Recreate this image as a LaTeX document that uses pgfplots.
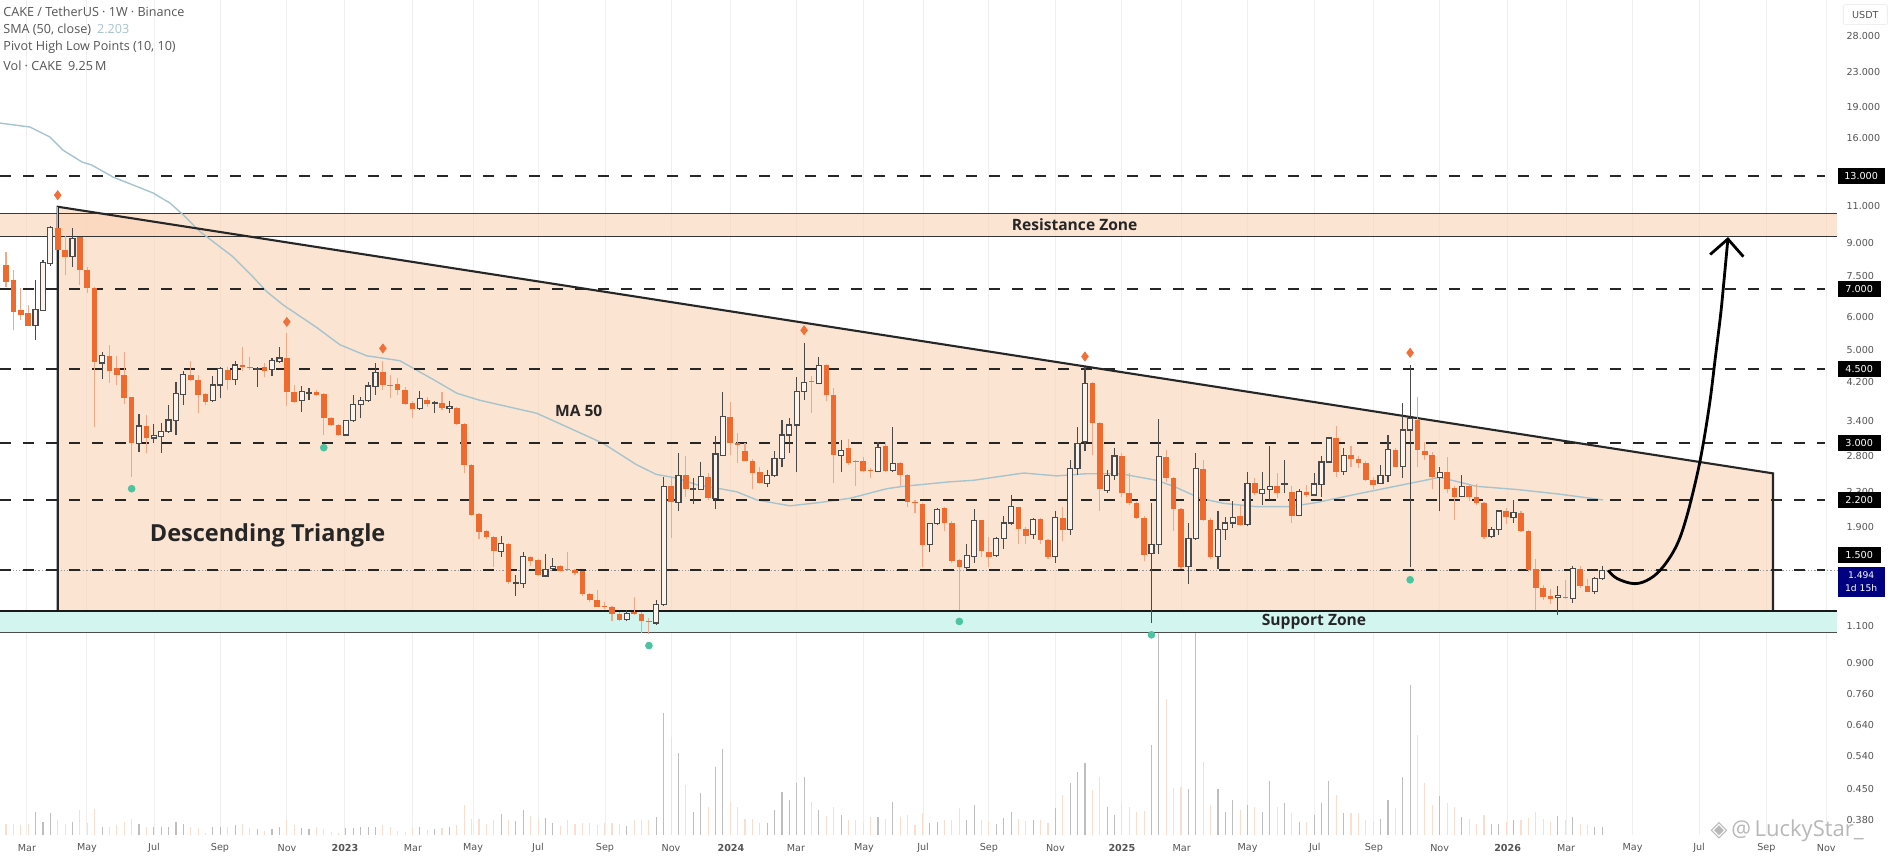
\documentclass[border=0pt]{standalone}
\usepackage{pgfplots}
\usepackage{pgfplotstable}
\usepackage{fontspec}
\setmainfont{Open Sans}
\newfontfamily\tickfont{DejaVu Sans}
\pgfplotsset{compat=1.18}
\definecolor{candlered}{HTML}{EE6A2F}
\definecolor{wickred}{HTML}{F2A888}
\definecolor{wickup}{HTML}{4A4A4A}
\definecolor{upfill}{HTML}{FBF3EC}
\definecolor{peach}{HTML}{FBD3B4}
\definecolor{aqua}{HTML}{D2F5F0}
\definecolor{smacol}{HTML}{A5C4CE}
\definecolor{pivotup}{HTML}{F0703A}
\definecolor{pivotdn}{HTML}{4CC4A2}
\definecolor{volup}{HTML}{BEBEBE}
\definecolor{voldn}{HTML}{FADDCE}
\definecolor{gridc}{HTML}{EFEFEF}
\definecolor{txt}{HTML}{555555}
\pgfdeclareplotmark{candleup}{%
  \pgfsetlinewidth{.55pt}\pgfsetstrokecolor{wickup}%
  \pgfpathmoveto{\pgfqpoint{0pt}{\cwl pt}}\pgfpathlineto{\pgfqpoint{0pt}{\cwh pt}}\pgfusepathqstroke
  \pgfsetlinewidth{.6pt}\pgfsetfillcolor{upfill}%
  \pgfpathrectangle{\pgfqpoint{-1.25pt}{0pt}}{\pgfqpoint{2.5pt}{\cdh pt}}\pgfusepathqfillstroke}
\pgfdeclareplotmark{candledn}{%
  \pgfsetlinewidth{.55pt}\pgfsetstrokecolor{wickred}%
  \pgfpathmoveto{\pgfqpoint{0pt}{\cwl pt}}\pgfpathlineto{\pgfqpoint{0pt}{\cwh pt}}\pgfusepathqstroke
  \pgfsetfillcolor{candlered}%
  \pgfpathrectangle{\pgfqpoint{-1.4pt}{0pt}}{\pgfqpoint{2.8pt}{\cdh pt}}\pgfusepathqfill}
\pgfplotsset{candles/.style={only marks, scatter, scatter src=y, mark=#1,
  visualization depends on={(ln(\thisrow{c})-ln(\thisrow{o}))*91.2 \as \cdh},
  visualization depends on={(ln(\thisrow{h})-ln(\thisrow{o}))*91.2 \as \cwh},
  visualization depends on={(ln(\thisrow{l})-ln(\thisrow{o}))*91.2 \as \cwl},
  scatter/@pre marker code/.code={\scope},
  scatter/@post marker code/.code={\endscope}}}
\pgfplotstableread{
x o h l c v
4 5.72 7.35 5.30 6.24 28
5 6.22 8.20 6.22 8.10 16
6 8.05 9.89 7.93 9.81 26
9 8.35 9.76 7.90 9.24 16
13 4.66 4.96 4.27 4.85 10
18 3.00 3.53 2.86 3.30 13.2
20 3.09 3.34 3.00 3.13 9.2
21 3.11 3.36 2.85 3.20 9.2
22 3.20 3.70 3.18 3.41 10
23 3.40 4.21 3.14 3.95 15.2
24 3.93 4.45 3.70 4.37 13.2
28 3.79 4.33 3.77 4.13 9.2
29 4.13 4.57 3.84 4.53 10
31 4.25 4.70 4.13 4.61 12
34 4.51 4.57 4.08 4.53 7.2
36 4.49 4.79 4.35 4.72 6.8
37 4.70 5.08 4.66 4.79 10
40 3.79 4.11 3.57 3.98 8
41 3.95 4.06 3.81 3.96 6.8
46 3.14 3.41 3.13 3.40 8
47 3.40 3.91 3.38 3.72 8
48 3.72 3.87 3.44 3.80 9.2
49 3.79 4.19 3.77 4.11 9.2
50 4.09 4.66 3.91 4.43 10
56 3.63 4.00 3.61 3.84 10
58 3.73 3.79 3.54 3.75 6.8
60 3.63 3.79 3.55 3.67 10
67 1.66 1.81 1.61 1.73 24.8
69 1.39 1.46 1.30 1.40 17.2
70 1.39 1.65 1.36 1.61 30
73 1.45 1.64 1.45 1.50 20
74 1.51 1.60 1.50 1.53 14
84 1.14 1.20 1.13 1.18 10.8
88 1.12 1.27 1.11 1.24 21.2
89 1.24 2.49 1.23 2.37 146
91 2.17 2.85 2.07 2.51 98
93 2.33 2.48 2.15 2.34 28
94 2.33 2.71 2.33 2.50 50
96 2.22 3.12 2.09 2.83 82
97 2.81 3.98 2.80 3.47 102.8
103 2.41 2.59 2.36 2.52 14
104 2.52 2.87 2.50 2.76 30
105 2.76 3.41 2.63 3.14 52
106 3.14 3.44 2.84 3.32 42
107 3.32 4.31 2.56 3.98 62
108 3.98 5.21 3.81 4.19 70
110 4.17 4.83 4.15 4.59 30
113 2.81 3.06 2.56 2.89 24
118 2.57 3.03 2.56 2.93 22
120 2.59 3.29 2.56 2.69 40
125 1.72 1.94 1.65 1.93 14
126 1.93 2.11 1.92 2.09 16
130 1.52 1.73 1.50 1.62 18
131 1.61 2.09 1.56 1.97 36
134 1.62 1.80 1.61 1.78 13.2
135 1.78 2.02 1.68 1.94 20
136 1.94 2.26 1.92 2.12 28
139 1.82 1.99 1.78 1.98 18
142 1.61 2.07 1.56 2.00 32
144 1.87 2.74 1.82 2.61 62
145 2.61 3.28 2.52 3.00 76
146 3.03 4.55 2.87 4.17 86
149 2.32 2.59 2.28 2.51 34
150 2.51 2.92 2.45 2.80 24
155 1.64 2.16 1.12 1.72 108
156 1.72 3.42 1.64 2.79 242
160 1.53 1.94 1.39 1.78 54.8
161 1.78 2.84 1.77 2.61 250
164 1.61 2.07 1.51 1.87 54.8
165 1.87 2.00 1.77 1.94 28
166 1.94 2.19 1.89 2.00 42
168 1.92 2.57 1.91 2.41 36
170 2.28 2.56 2.14 2.33 28
171 2.33 2.95 2.20 2.37 64.8
173 2.39 2.74 2.28 2.40 38
175 2.02 2.33 2.01 2.30 16
177 2.26 2.55 2.25 2.40 24
178 2.39 2.80 2.24 2.71 38
179 2.71 3.10 2.69 3.09 65.2
181 2.57 2.92 2.52 2.81 26
186 2.41 2.66 2.40 2.52 18.8
187 2.52 3.14 2.43 2.90 42
189 2.64 3.75 2.48 3.23 70
190 3.23 4.61 1.52 3.44 180
194 2.49 2.63 2.07 2.56 46.8
197 2.24 2.52 2.23 2.37 22
201 1.80 1.90 1.79 1.87 13.2
202 1.87 2.08 1.82 2.07 13.2
204 2.00 2.20 1.94 2.05 18
210 1.29 1.37 1.17 1.30 22.8
212 1.28 1.53 1.25 1.51 22
215 1.33 1.44 1.31 1.43 10
216 1.43 1.53 1.42 1.494 9.25
}\candleuptable
\pgfplotstableread{
x o h l c v
-1 8.35 8.83 7.76 7.98 5
0 7.98 8.58 7.07 7.28 13.2
1 7.35 7.75 5.58 6.18 13.2
2 6.22 7.02 5.90 6.05 12
3 6.12 6.40 5.71 5.71 13.2
7 9.76 10.98 8.66 8.66 18
8 8.66 9.33 7.56 8.35 13.2
10 9.29 9.29 7.14 7.76 30
11 7.76 7.90 6.83 7.02 14
12 7.02 7.06 3.29 4.68 30.8
14 4.85 5.15 4.17 4.45 9.2
15 4.53 4.85 4.13 4.37 12
16 4.37 4.96 3.73 3.84 16
17 3.86 3.87 2.50 3.01 18.8
19 3.30 3.50 2.85 3.09 10
25 4.37 4.70 4.23 4.25 9.2
26 4.25 4.37 3.54 3.91 8
27 3.93 3.95 3.70 3.77 2
30 4.49 4.57 4.02 4.25 9.2
32 4.61 5.08 4.45 4.57 13.2
33 4.57 4.83 4.49 4.53 8
35 4.57 4.66 4.31 4.45 5.2
38 4.79 5.48 3.68 3.98 18
39 3.98 4.13 3.75 3.77 12
42 3.98 4.03 3.89 3.91 10
43 3.93 3.95 3.14 3.45 6.8
44 3.45 3.47 3.30 3.32 4
45 3.32 3.34 3.13 3.14 2
51 4.43 4.70 4.02 4.13 12
52 4.13 4.37 3.84 4.11 10
53 4.15 4.29 3.91 4.02 5.2
54 4.03 4.08 3.70 3.73 3.2
55 3.75 3.79 3.44 3.63 8
57 3.81 3.86 3.67 3.73 6
59 3.75 3.98 3.61 3.65 8
61 3.65 3.67 3.32 3.34 12
62 3.34 3.35 2.55 2.67 36
63 2.67 2.68 2.02 2.03 18.8
64 2.04 2.05 1.78 1.85 18.8
65 1.86 1.87 1.78 1.80 13.2
66 1.80 1.81 1.52 1.66 18
68 1.73 1.74 1.39 1.40 18
71 1.61 1.62 1.53 1.57 22.8
72 1.58 1.59 1.45 1.46 18.8
75 1.53 1.54 1.48 1.49 10.8
76 1.505 1.65 1.49 1.495 18
77 1.50 1.51 1.46 1.47 13.2
78 1.49 1.49 1.30 1.31 14.8
79 1.31 1.32 1.26 1.27 14
80 1.27 1.34 1.22 1.22 12
81 1.23 1.26 1.21 1.22 14
82 1.22 1.23 1.13 1.18 14
83 1.18 1.19 1.13 1.14 13.2
85 1.19 1.29 1.17 1.18 18
86 1.18 1.19 1.06 1.13 18
87 1.13 1.15 1.055 1.125 18
90 2.37 2.48 1.79 2.18 118
92 2.52 2.80 2.24 2.33 60
95 2.50 2.55 2.20 2.22 34
98 3.46 3.77 2.81 3.00 40
99 3.00 3.17 2.70 2.97 33.2
100 2.87 3.00 2.72 2.73 18.8
101 2.73 2.75 2.33 2.55 18.8
102 2.56 2.64 2.40 2.42 14
109 4.22 4.35 3.54 4.20 40
111 4.61 4.64 3.79 3.91 22.8
112 3.91 4.06 2.42 2.81 34
114 2.92 3.07 2.67 2.70 18
115 2.73 2.74 2.38 2.72 18
116 2.72 2.79 2.57 2.58 14
117 2.59 2.62 2.48 2.58 22
119 2.95 3.03 2.56 2.58 18.8
121 2.69 2.71 2.37 2.52 22
122 2.52 2.54 2.12 2.17 24
123 2.18 2.20 2.05 2.16 12
124 2.15 2.16 1.52 1.72 26
127 2.11 2.12 1.86 1.94 18
128 1.94 1.96 1.56 1.57 18
129 1.58 1.59 1.20 1.52 32
132 1.97 1.97 1.61 1.66 18
133 1.65 1.80 1.52 1.61 16
137 2.12 2.12 1.73 1.88 18.8
138 1.88 1.90 1.73 1.81 17.2
140 1.98 1.99 1.73 1.77 18
141 1.77 1.78 1.59 1.61 14
143 1.99 2.12 1.76 1.87 48
147 4.17 4.21 2.81 3.35 54
148 3.35 3.38 2.07 2.33 70
151 2.80 2.84 2.24 2.28 38
152 2.28 2.55 2.14 2.16 34
153 2.16 2.18 1.98 1.99 28
154 1.99 2.01 1.57 1.63 29.2
157 2.79 2.89 2.43 2.48 162.8
158 2.48 2.50 1.86 2.09 56
159 2.09 2.11 1.51 1.52 58
162 2.61 2.74 1.96 1.97 88
163 1.97 1.99 1.59 1.61 36
167 2.01 2.14 1.91 1.92 30
169 2.41 2.48 2.26 2.28 34
172 2.37 2.55 2.22 2.28 34
174 2.30 2.37 1.94 2.01 26
176 2.30 2.39 2.24 2.26 16
180 3.09 3.30 2.50 2.57 48
182 2.81 2.95 2.64 2.76 26
183 2.76 2.80 2.62 2.69 26
184 2.70 2.72 2.44 2.45 18
185 2.46 2.50 2.33 2.39 16
188 2.89 2.92 2.63 2.64 32
191 3.41 3.87 2.64 2.89 120
192 2.88 3.02 2.74 2.81 62
193 2.81 2.86 2.33 2.49 36
195 2.56 2.78 2.28 2.33 38
196 2.35 2.37 1.97 2.24 33.2
198 2.37 2.40 2.19 2.23 18.8
199 2.24 2.40 2.14 2.16 13.2
200 2.16 2.17 1.78 1.80 24
203 2.07 2.11 1.93 2.00 16
205 2.05 2.07 1.85 1.86 18
206 1.86 1.87 1.48 1.50 20
207 1.51 1.59 1.20 1.36 28
208 1.36 1.38 1.27 1.29 18.8
209 1.30 1.35 1.24 1.28 16
211 1.295 1.42 1.28 1.29 18
213 1.51 1.53 1.36 1.37 13.2
214 1.37 1.43 1.33 1.33 12
}\candledntable
\pgfplotstableread{
x y
-0.8 17.37
3.25 17.0
5.95 16.09
7.7 14.98
10.3 14.03
11.6 13.8
14.5 12.92
19.9 11.84
22.2 11.2
24 10.49
26.25 9.58
30.7 8.35
33.4 7.48
35.3 6.89
37.5 6.41
42 5.67
45.2 5.15
48.8 4.85
53.3 4.72
55.1 4.53
57.9 4.25
61 3.95
64.1 3.80
71.8 3.54
76.3 3.26
80.8 3.00
85.3 2.67
88 2.53
90.8 2.48
93.5 2.39
96.6 2.34
98.9 2.30
101.6 2.20
106.1 2.13
110.2 2.17
114.2 2.22
119.2 2.34
121.4 2.37
127.7 2.43
130.9 2.45
137.7 2.55
142.2 2.51
146.2 2.54
150.8 2.54
155.7 2.45
158 2.37
161.6 2.22
164.7 2.16
169.2 2.12
173.7 2.12
177.4 2.17
183.2 2.28
190 2.41
194 2.49
199 2.37
204.4 2.33
210.3 2.27
216.1 2.20
}\smatable
\begin{document}
\begin{tikzpicture}
\path[use as bounding box, fill=white] (0,0) rectangle (947pt,430pt);
% volume pane, with the time grid and time labels
\begin{axis}[at={(0pt,12.5pt)},anchor=south west,scale only axis,width=947pt,height=417.5pt,
  xmin=-0.812,xmax=255.48,ymin=0,ymax=1002,
  axis line style={draw=none},major tick length=0pt,ytick=\empty,
  xmajorgrids,grid style={line width=.5pt,gridc},
  xtick={2.84,10.96,20.03,28.96,38.02,45.87,55.07,63.2,71.99,81.06,89.99,98.1,106.9,116.1,124.1,133.0,142.0,151.0,159.1,168.0,177.1,185.1,194.0,203.2,211.1,220.1,229.1,238.2,246.3},
  xticklabels={Mar,May,Jul,Sep,Nov,\textbf{2023},Mar,May,Jul,Sep,Nov,\textbf{2024},Mar,May,Jul,Sep,Nov,\textbf{2025},Mar,May,Jul,Sep,Nov,\textbf{2026},Mar,May,Jul,Sep,Nov},
  xticklabel style={font=\tickfont\fontsize{4.8}{5}\selectfont,text=txt,inner sep=0pt,anchor=center,yshift=-6.6pt}]
\addplot[ycomb,draw=voldn,line width=.55pt,no markers] table[x=x,y=v]{\candledntable};
\addplot[ycomb,draw=volup,line width=.55pt,no markers] table[x=x,y=v]{\candleuptable};
\end{axis}
% price pane
\begin{axis}[at={(0pt,0pt)},anchor=south west,scale only axis,width=947pt,height=430pt,
  xmin=-0.812,xmax=255.48,ymode=log,ymin=0.3055,ymax=34.12,
  axis line style={draw=none},major tick length=0pt,xtick=\empty,ytick=\empty,minor tick length=0pt,
  log ticks with fixed point]
% zones and pattern
\addplot[fill=peach,fill opacity=.6,draw=none] coordinates {(-0.812,10.59)(247.8,10.59)(247.8,9.35)(-0.812,9.35)} --cycle;
\addplot[fill=aqua,draw=none] coordinates {(-0.812,1.195)(247.8,1.195)(247.8,1.064)(-0.812,1.064)} --cycle;
\addplot[fill=peach,fill opacity=.6,draw=none] coordinates {(7,10.98)(239.1,2.545)(239.1,1.195)(7,1.195)} --cycle;
\addplot[draw=black!60!brown,line width=.5pt] coordinates {(-0.812,10.59)(247.8,10.59)};
\addplot[draw=black!80,line width=.5pt] coordinates {(-0.812,9.35)(247.8,9.35)};
\addplot[draw=black!70,line width=.7pt] coordinates {(-0.812,1.064)(247.8,1.064)};
% candles
\addplot[candles=candledn] table[x=x,y=o]{\candledntable};
\addplot[candles=candleup] table[x=x,y=o]{\candleuptable};
% SMA
\addplot[smacol,line width=.7pt,no markers] table[x=x,y=y]{\smatable};
% price line and levels
\addplot[gray!80,line width=.35pt,dash pattern=on .6pt off 1pt] coordinates {(-0.812,1.494)(247.8,1.494)};
\foreach \lv in {13,7,4.5,3,2.2,1.5}{
  \edef\temp{\noexpand\addplot[black!85,line width=1pt,dash pattern=on 5.6pt off 5.9pt] coordinates {(-0.812,\lv)(246.1,\lv)};}\temp
}
% triangle outline
\addplot[draw=black!85,line width=1.05pt,line join=miter] coordinates {(7,1.195)(7,10.98)(239.1,2.545)(239.1,1.195)};
\addplot[draw=black!90,line width=1pt] coordinates {(-0.812,1.195)(247.8,1.195)};
% pivots
\addplot[only marks,mark=diamond*,mark size=2.2pt,pivotup,mark options={draw=none,fill=pivotup}] coordinates {(7,11.7)(38,5.84)(51,5.05)(108,5.58)(146,4.83)(190,4.93)};
\addplot[only marks,mark=*,mark size=1.7pt,pivotdn,mark options={draw=none,fill=pivotdn}] coordinates {(17,2.34)(43,2.93)(87,0.99)(129,1.13)(155,1.05)(190,1.42)};
% projected path
\addplot[smooth,black,line width=1.4pt,no markers,tension=.6] coordinates {(216.8,1.496)(218,1.43)(220.4,1.39)(222.5,1.43)(224.3,1.53)(226.1,1.72)(227.4,2.0)(228.8,2.51)(229.7,3.02)(230.6,3.81)(231.3,4.80)(232,6.04)(232.4,7.10)(233,9.2)};
\addplot[black,line width=1.4pt,no markers] coordinates {(230.6,8.45)(233,9.2)(235.1,8.35)};
% annotations
\node[font=\bfseries\fontsize{11.75}{13}\selectfont,text=black!85] at (axis cs:35.4,1.81) {Descending Triangle};
\node[font=\bfseries\fontsize{7.8}{9}\selectfont,text=black!85] at (axis cs:144.6,9.96) {Resistance Zone};
\node[font=\bfseries\fontsize{7.8}{9}\selectfont,text=black!85] at (axis cs:177,1.128) {Support Zone};
\node[font=\bfseries\fontsize{7.8}{9}\selectfont,text=black!85] at (axis cs:77.5,3.59) {MA 50};
% legend lines
\begin{scope}[every node/.style={anchor=west,inner sep=0pt,text=txt,font=\fontsize{6.3}{7}\selectfont}]
\node at (rel axis cs:0.0016,0.986) {CAKE / TetherUS · 1W · Binance};
\node at (rel axis cs:0.0016,0.965) {SMA (50, close)\hspace{3pt}\textcolor{smacol}{2.203}};
\node at (rel axis cs:0.0016,0.945) {Pivot High Low Points (10, 10)};
\node at (rel axis cs:0.0016,0.924) {Vol · CAKE\hspace{3pt}9.25\,M};
\end{scope}
% price scale
\begin{scope}[every node/.style={anchor=west,inner sep=0pt,text=txt,font=\tickfont\fontsize{4.8}{5}\selectfont}]
\foreach \p/\t in {28/28.000,23/23.000,19/19.000,16/16.000,11/11.000,9/9.000,7.5/7.500,6/6.000,5/5.000,4.2/4.200,3.4/3.400,2.8/2.800,2.3/2.300,1.9/1.900,1.1/1.100,0.9/0.900,0.76/0.760,0.64/0.640,0.54/0.540,0.45/0.450,0.38/0.380}{
  \edef\temp{\noexpand\node at (axis cs:249,\p) {\t};}\temp
}
\end{scope}
\begin{scope}[every node/.style={anchor=west,fill=black,text=white,inner sep=0pt,minimum height=8pt,minimum width=21.5pt,align=center,font=\tickfont\fontsize{4.8}{5}\selectfont}]
\node[minimum width=23.5pt] at (axis cs:247.8,13) {13.000};
\node at (axis cs:247.8,7) {7.000};
\node at (axis cs:247.8,4.5) {4.500};
\node at (axis cs:247.8,3) {3.000};
\node at (axis cs:247.8,2.2) {2.200};
\node at (axis cs:247.8,1.5)[yshift=7.6pt] {1.500};
\end{scope}
\node[anchor=north west,fill=blue!50!black,text=white,inner sep=0pt,minimum width=23.5pt,minimum height=15.2pt,align=center,font=\tickfont\fontsize{4.6}{6.6}\selectfont] at (axis cs:247.8,1.53) {1.494\\1d 15h};
\node[draw=gridc,rounded corners=1pt,text=txt,inner sep=0pt,minimum width=22pt,minimum height=10pt,font=\tickfont\fontsize{4.8}{5}\selectfont] at (axis cs:251.6,31.5) {USDT};
% watermark
\node[anchor=west,inner sep=0pt,text=black!28,font=\fontsize{11}{12}\selectfont] at (rel axis cs:0.903,0.034) {{\tickfont\symbol{"25C8}}\,@\,LuckyStar\_};
\end{axis}
\end{tikzpicture}
\end{document}
